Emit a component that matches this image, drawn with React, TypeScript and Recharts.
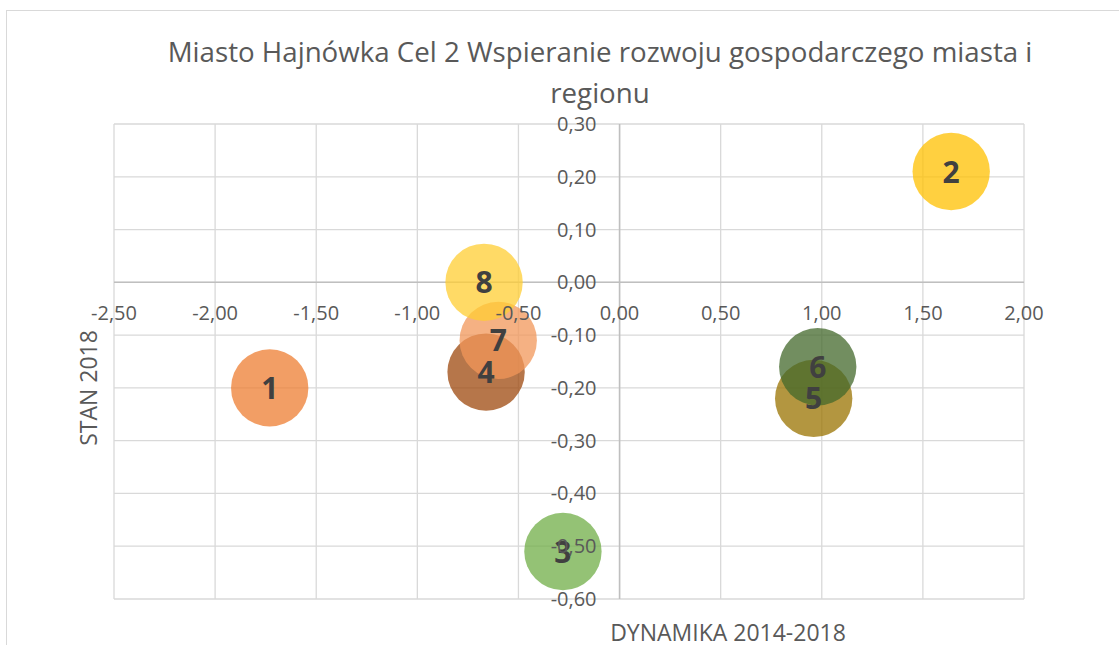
import React from "react";
import { ScatterChart, Scatter, XAxis, YAxis, ZAxis, CartesianGrid, ReferenceLine, Cell } from "recharts";

// bubble data
const labels = ["1", "2", "3", "4", "5", "6", "7", "8"];
const dynamika = [-1.73, 1.64, -0.28, -0.66, 0.96, 0.98, -0.6, -0.67];
const stan = [-0.2, 0.21, -0.51, -0.17, -0.22, -0.16, -0.11, 0.0];
const weight = [1, 1, 1, 1, 1, 1, 1, 1];
const colors = ["#ED7D31", "#FFC000", "#70AD47", "#9E480E", "#997300", "#43682B", "#F1975A", "#FFCD33"];

const xTicks = [-2.5, -2, -1.5, -1, -0.5, 0, 0.5, 1, 1.5, 2];
const yTicks = [-0.6, -0.5, -0.4, -0.3, -0.2, -0.1, 0, 0.1, 0.2, 0.3];

const W = 1119;
const H = 645;
const PLOT = { left: 114, top: 124, right: 1024, bottom: 599 };
const AX = 30; // room given to the (invisible) axes
const FONT = "'Open Sans', sans-serif";
const TXT = "#595959";

const xMin = xTicks[0];
const xMax = xTicks[xTicks.length - 1];
const yMin = yTicks[0];
const yMax = yTicks[yTicks.length - 1];
const zeroX = PLOT.left + ((0 - xMin) / (xMax - xMin)) * (PLOT.right - PLOT.left);
const zeroY = PLOT.top + ((yMax - 0) / (yMax - yMin)) * (PLOT.bottom - PLOT.top);

const fmt = (v: number) => v.toFixed(2).replace(".", ",");

const data = labels.map((name, i) => ({ name, x: dynamika[i], y: stan[i], z: weight[i] }));

// axis labels sit on the zero lines, like in Excel
const XTick = ({ x, payload }: any) => (
  <text x={x} y={zeroY + 38} textAnchor="middle" fontSize={20} fontFamily={FONT} fill={TXT}>
    {fmt(payload.value)}
  </text>
);

const YTick = ({ y, payload }: any) => (
  <text x={zeroX - 23} y={y + 7} textAnchor="end" fontSize={20} fontFamily={FONT} fill={TXT}>
    {fmt(payload.value)}
  </text>
);

const Bubble = (props: any) => {
  const { cx, cy, width, fill } = props;
  if (cx == null || cy == null) return null;
  return <circle cx={cx} cy={cy} r={(width || 77) / 2} fill={fill} fillOpacity={0.75} />;
};

const BubbleLabel = (props: any) => {
  const { cx, cy, payload } = props;
  if (cx == null || cy == null) return null;
  return (
    <text x={cx} y={cy + 11} textAnchor="middle" fontSize={30} fontWeight="bold" fontFamily={FONT} fill="#404040">
      {payload.name}
    </text>
  );
};

export default function App() {
  return (
    <div style={{ position: "absolute", left: 0, top: 0, width: W, height: H, background: "#fff", overflow: "hidden" }}>
      <div style={{ position: "absolute", left: 6, top: 10, width: 1300, height: 800, border: "1.5px solid #d9d9d9" }} />
      <div
        style={{
          position: "absolute", left: 50, width: 1100, top: 31, textAlign: "center",
          fontFamily: FONT, fontSize: 27.7, lineHeight: "41px", color: TXT,
        }}
      >
        Miasto Hajnówka Cel 2 Wspieranie rozwoju gospodarczego miasta i
        <br />
        regionu
      </div>
      <ScatterChart
        width={W}
        height={H}
        margin={{ top: PLOT.top, left: PLOT.left - AX, right: W - PLOT.right, bottom: H - PLOT.bottom - AX }}
        style={{ position: "absolute", left: 0, top: 0 }}
      >
        <CartesianGrid stroke="#d9d9d9" strokeWidth={1.3} />
        <XAxis
          type="number"
          dataKey="x"
          domain={[xMin, xMax]}
          ticks={xTicks}
          interval={0}
          height={AX}
          axisLine={false}
          tickLine={false}
          tick={<XTick />}
        />
        <YAxis
          type="number"
          dataKey="y"
          domain={[yMin, yMax]}
          ticks={yTicks}
          interval={0}
          width={AX}
          axisLine={false}
          tickLine={false}
          tick={<YTick />}
        />
        <ZAxis type="number" dataKey="z" range={[4700, 4700]} />
        <ReferenceLine x={0} stroke="#bfbfbf" strokeWidth={1.5} />
        <ReferenceLine y={0} stroke="#bfbfbf" strokeWidth={1.5} />
        <Scatter data={data} shape={<Bubble />} isAnimationActive={false}>
          {data.map((d, i) => (
            <Cell key={d.name} fill={colors[i]} />
          ))}
        </Scatter>
        <Scatter data={data} shape={<BubbleLabel />} isAnimationActive={false} />
      </ScatterChart>
      <div
        style={{
          position: "absolute", left: 88, top: 388, transform: "translate(-50%, -50%) rotate(-90deg)",
          fontFamily: FONT, fontSize: 23, color: TXT, whiteSpace: "nowrap",
        }}
      >
        STAN 2018
      </div>
      <div
        style={{
          position: "absolute", left: 728, top: 632, transform: "translate(-50%, -50%)",
          fontFamily: FONT, fontSize: 23, color: TXT, whiteSpace: "nowrap",
        }}
      >
        DYNAMIKA 2014-2018
      </div>
    </div>
  );
}
